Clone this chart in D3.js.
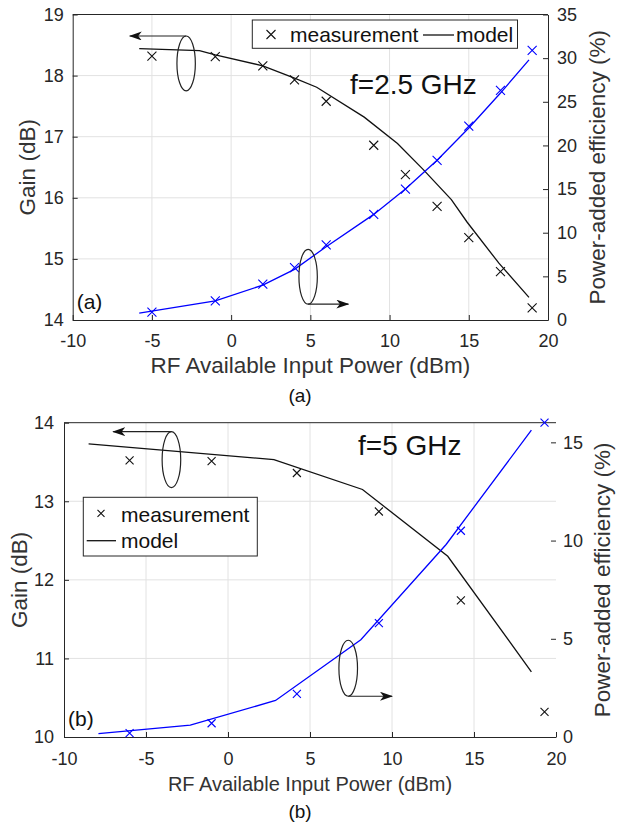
<!DOCTYPE html>
<html>
<head>
<meta charset="utf-8">
<title>Gain and PAE vs input power</title>
<style>
  body { margin: 0; background: #fff; }
  svg text { font-family: "Liberation Sans", Arial, sans-serif; }
</style>
</head>
<body>
<script src="https://cdn.jsdelivr.net/npm/d3@7/dist/d3.min.js"></script>
<script>
// ---- (a) f = 2.5 GHz ----
var powerMeasA = [-5, -1, 2, 4, 6, 9, 11, 13, 15, 17, 19];
var gainMeasA  = [18.32, 18.31, 18.16, 17.93, 17.58, 16.86, 16.38, 15.86, 15.35, 14.79, 14.2];
var paeMeasA   = [0.9, 2.2, 4.1, 6.0, 8.6, 12.1, 15.0, 18.3, 22.2, 26.3, 30.9];
var powerGainModelA = [-5.8, -2, -1, 2, 4, 5.4, 8.4, 10.5, 12.1, 13.9, 14.9, 16.9, 18.8];
var gainModelA      = [18.44, 18.41, 18.34, 18.16, 17.96, 17.81, 17.32, 16.89, 16.47, 15.97, 15.6, 14.93, 14.37];
var powerPaeModelA  = [-5.8, -1, 2, 4, 6, 9, 11, 13, 15, 17, 18.8];
var paeModelA       = [0.8, 2.2, 4.0, 5.8, 8.4, 12.1, 15.0, 18.3, 22.0, 26.0, 29.8];

// ---- (b) f = 5 GHz ----
var powerMeasB = [-6, -1, 4.2, 9.2, 14.2, 19.3];
var gainMeasB  = [13.52, 13.51, 13.36, 12.87, 11.74, 10.32];
var paeMeasB   = [0.2, 0.7, 2.2, 5.8, 10.5, 16.0];
var powerGainModelB = [-8.5, 2.8, 8.2, 13.4, 18.5];
var gainModelB      = [13.73, 13.53, 13.15, 12.3, 10.83];
var powerPaeModelB  = [-7.9, -2.3, 2.9, 8.1, 13.3, 18.5];
var paeModelB       = [0.17, 0.6, 1.86, 4.95, 9.8, 15.62];

// ticks
var xTicks = [-10, -5, 0, 5, 10, 15, 20];
var gainTicksA = [14, 15, 16, 17, 18, 19];
var paeTicksA = [0, 5, 10, 15, 20, 25, 30, 35];
var gainTicksB = [10, 11, 12, 13, 14];
var paeTicksB = [0, 5, 10, 15];

var axisColor = '#262626';

var svg = d3.select('body').append('svg')
  .attr('width', 620)
  .attr('height', 827)
  .style('background', '#fff');

// arrow head
svg.append('defs').append('marker')
  .attr('id', 'head')
  .attr('viewBox', '0 0 13 9')
  .attr('refX', 12).attr('refY', 4.5)
  .attr('markerWidth', 13).attr('markerHeight', 9)
  .attr('markerUnits', 'userSpaceOnUse')
  .attr('orient', 'auto')
  .append('path')
  .attr('d', 'M0,0 L13,4.5 L0,9 L3.5,4.5 Z')
  .attr('fill', '#111');

function crossPath(cx, cy, s) {
  return `M${cx - s},${cy - s}L${cx + s},${cy + s}M${cx - s},${cy + s}L${cx + s},${cy - s}`;
}

function styleAxis(sel, fs) {
  sel.attr('font-size', fs)
    .attr('font-family', '"Liberation Sans", Arial, sans-serif')
    .attr('color', axisColor);
  sel.selectAll('.tick line').attr('stroke', axisColor);
}

function drawPanel(p) {
  var x = d3.scaleLinear().domain([-10, 20]).range([p.left, p.right]);
  var yG = d3.scaleLinear().domain(p.gainDomain).range([p.bottom, p.top]);
  var yP = d3.scaleLinear().domain(p.paeDomain).range([p.bottom, p.top]);
  var g = svg.append('g');

  // grid
  g.selectAll('line.vg').data(xTicks.slice(1, -1)).enter().append('line')
    .attr('x1', d => x(d)).attr('x2', d => x(d))
    .attr('y1', p.top).attr('y2', p.bottom)
    .attr('stroke', '#e2e2e2');
  g.selectAll('line.hg').data(p.gainTicks.slice(1, -1)).enter().append('line')
    .attr('x1', p.left).attr('x2', p.right)
    .attr('y1', d => yG(d)).attr('y2', d => yG(d))
    .attr('stroke', '#e2e2e2');

  // top border
  g.append('line')
    .attr('x1', p.left).attr('x2', p.right)
    .attr('y1', p.top).attr('y2', p.top)
    .attr('stroke', axisColor);

  // axes
  var fmt = d => String(d);
  var bx = g.append('g').attr('transform', `translate(0,${p.bottom})`)
    .call(d3.axisBottom(x).tickValues(xTicks).tickFormat(fmt)
      .tickSizeInner(-5).tickSizeOuter(0).tickPadding(p.xPad));
  styleAxis(bx, p.tickFs);

  var ly = g.append('g').attr('transform', `translate(${p.left},0)`)
    .call(d3.axisLeft(yG).tickValues(p.gainTicks).tickFormat(fmt)
      .tickSizeInner(-5).tickSizeOuter(0).tickPadding(p.yPad));
  styleAxis(ly, p.tickFs);

  var ry = g.append('g').attr('transform', `translate(${p.right},0)`)
    .call(d3.axisRight(yP).tickValues(p.paeTicks).tickFormat(fmt)
      .tickSizeInner(-5).tickSizeOuter(0).tickPadding(p.rPad));
  styleAxis(ry, p.tickFs);
  if (!p.rightLine) ry.select('.domain').remove();

  // model lines
  var line = (xs, ys, yScale) => d3.line()
    .x(d => x(d[0])).y(d => yScale(d[1]))(d3.zip(xs, ys));

  g.append('path').attr('d', line(p.gModelX, p.gModel, yG))
    .attr('fill', 'none').attr('stroke', '#111').attr('stroke-width', 1.3);
  g.append('path').attr('d', line(p.pModelX, p.pModel, yP))
    .attr('fill', 'none').attr('stroke', '#0000ff').attr('stroke-width', 1.3);

  // measurements
  g.selectAll('path.mg').data(d3.zip(p.measX, p.gMeas)).enter().append('path')
    .attr('d', d => crossPath(x(d[0]), yG(d[1]), p.ms))
    .attr('stroke', '#111').attr('stroke-width', 1.1).attr('fill', 'none');
  g.selectAll('path.mp').data(d3.zip(p.measX, p.pMeas)).enter().append('path')
    .attr('d', d => crossPath(x(d[0]), yP(d[1]), p.ms))
    .attr('stroke', '#0000ff').attr('stroke-width', 1.1).attr('fill', 'none');

  // ellipse + arrow annotations
  var e1x = x(p.gainNote[0]), e1y = yG(p.gainNote[1]);
  g.append('ellipse').attr('cx', e1x).attr('cy', e1y).attr('rx', p.erx).attr('ry', p.ery)
    .attr('fill', 'none').attr('stroke', '#222').attr('stroke-width', 1.2);
  g.append('line')
    .attr('x1', e1x).attr('y1', e1y - p.ery)
    .attr('x2', x(p.gainNote[2])).attr('y2', e1y - p.ery)
    .attr('stroke', '#222').attr('stroke-width', 1.2).attr('marker-end', 'url(#head)');

  var e2x = x(p.paeNote[0]), e2y = yP(p.paeNote[1]);
  g.append('ellipse').attr('cx', e2x).attr('cy', e2y).attr('rx', p.erx).attr('ry', p.ery)
    .attr('fill', 'none').attr('stroke', '#222').attr('stroke-width', 1.2);
  g.append('line')
    .attr('x1', e2x).attr('y1', e2y + p.ery)
    .attr('x2', x(p.paeNote[2])).attr('y2', e2y + p.ery)
    .attr('stroke', '#222').attr('stroke-width', 1.2).attr('marker-end', 'url(#head)');

  // axis labels
  g.append('text')
    .attr('x', (p.left + p.right) / 2).attr('y', p.xLabelY)
    .attr('text-anchor', 'middle').attr('font-size', p.labelFs).attr('fill', '#333')
    .text('RF Available Input Power (dBm)');
  g.append('text')
    .attr('transform', `translate(${p.gLabelX},${(p.top + p.bottom) / 2}) rotate(-90)`)
    .attr('text-anchor', 'middle').attr('font-size', 22.5).attr('fill', '#333')
    .text('Gain (dB)');
  g.append('text')
    .attr('transform', `translate(${p.pLabelX},${(p.top + p.bottom) / 2}) rotate(-90)`)
    .attr('text-anchor', 'middle').attr('font-size', 22.5).attr('fill', '#333')
    .text('Power-added efficiency (%)');

  // frequency + panel tag
  g.append('text').attr('x', p.freqX).attr('y', p.freqY)
    .attr('font-size', 28).attr('fill', '#111').text(p.freq);
  g.append('text').attr('x', p.left + 4).attr('y', p.bottom - 11)
    .attr('font-size', 21).attr('fill', '#111').text(p.tag);

  // caption
  g.append('text').attr('x', 300).attr('y', p.captionY)
    .attr('text-anchor', 'middle').attr('font-size', 19)
    .attr('font-family', '"Liberation Serif", "Times New Roman", serif')
    .attr('fill', '#111').text(p.tag);

  // legend
  var L = p.legend;
  var lg = g.append('g');
  lg.append('rect').attr('x', L.x).attr('y', L.y).attr('width', L.w).attr('height', L.h)
    .attr('fill', '#fff').attr('stroke', axisColor);
  lg.append('path').attr('d', crossPath(L.mx, L.my, L.ms))
    .attr('stroke', '#111').attr('stroke-width', 1.1);
  lg.append('text').attr('x', L.mtx).attr('y', L.mty).attr('font-size', 21)
    .attr('fill', '#111').text('measurement');
  lg.append('line').attr('x1', L.lx1).attr('x2', L.lx2).attr('y1', L.ly).attr('y2', L.ly)
    .attr('stroke', '#111').attr('stroke-width', 1.3);
  lg.append('text').attr('x', L.ltx).attr('y', L.lty).attr('font-size', 21)
    .attr('fill', '#111').text('model');
}

drawPanel({
  left: 72.7, right: 548, top: 14.5, bottom: 320,
  gainDomain: [14, 19], paeDomain: [0, 35],
  gainTicks: gainTicksA, paeTicks: paeTicksA,
  measX: powerMeasA, gMeas: gainMeasA, pMeas: paeMeasA,
  gModelX: powerGainModelA, gModel: gainModelA,
  pModelX: powerPaeModelA, pModel: paeModelA,
  xPad: 14, yPad: 9, rPad: 9, tickFs: 18, labelFs: 22.5, ms: 4.5,
  rightLine: true,
  gainNote: [-2.84, 18.2, -6.4], paeNote: [4.86, 4.96, 7.4], erx: 9.2, ery: 27.4,
  xLabelY: 373, gLabelX: 35, pLabelX: 605,
  freq: 'f=2.5 GHz', freqX: 350, freqY: 94, tag: '(a)', captionY: 402,
  legend: { x: 252.3, y: 20, w: 265.2, h: 28.3, mx: 271, my: 34.5, ms: 4.5,
            mtx: 290, mty: 42, lx1: 423, lx2: 454, ly: 35, ltx: 456, lty: 42 }
});

drawPanel({
  left: 64, right: 556, top: 422.7, bottom: 737,
  gainDomain: [10, 14], paeDomain: [0, 16],
  gainTicks: gainTicksB, paeTicks: paeTicksB,
  measX: powerMeasB, gMeas: gainMeasB, pMeas: paeMeasB,
  gModelX: powerGainModelB, gModel: gainModelB,
  pModelX: powerPaeModelB, pModel: paeModelB,
  xPad: 15, yPad: 10, rPad: 7, tickFs: 18, labelFs: 20, ms: 4,
  rightLine: false,
  gainNote: [-3.45, 13.53, -7.0], paeNote: [7.33, 3.5, 10.0], erx: 9.3, ery: 28,
  xLabelY: 791, gLabelX: 27, pLabelX: 610,
  freq: 'f=5 GHz', freqX: 358, freqY: 455, tag: '(b)', captionY: 818,
  legend: { x: 83.3, y: 497.3, w: 174, h: 58.7, mx: 101, my: 513.3, ms: 3.5,
            mtx: 121, mty: 521.7, lx1: 86.7, lx2: 116, ly: 540.7, ltx: 121, lty: 547.5 }
});
</script>
</body>
</html>
